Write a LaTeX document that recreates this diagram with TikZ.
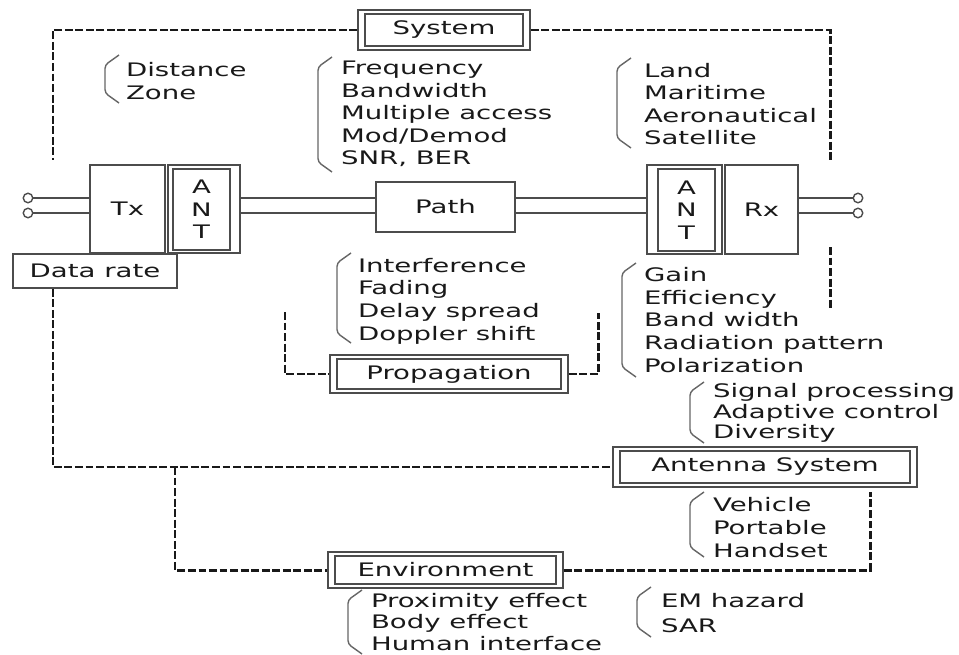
\documentclass[tikz,border=0pt]{standalone}
\usepackage{fontspec}
\setmainfont{DejaVu Sans}
\usepackage{graphicx}
\newcommand{\lfont}{\fontsize{10.6}{12.86}\selectfont}
\newcommand{\wt}[1]{\scalebox{1.48}[1]{#1}}

\begin{document}
\begin{tikzpicture}[x=0.02cm, y=-0.02cm, line width=0.8pt,
  box/.style={draw=black!70, inner sep=0pt, font=\lfont, text=black!90},
  dbox/.style={box, path picture={\draw[black!70] ([shift={(7,4)}]path picture bounding box.north west) rectangle ([shift={(-7,-4)}]path picture bounding box.south east);}},
  lst/.style={font=\lfont, text=black!90, align=left, anchor=west, inner sep=0pt, xscale=1.48},
  term/.style={circle, draw=black!70, minimum size=0.19cm, inner sep=0pt},
  dline/.style={draw=black!90, line width=1.7pt, dash pattern=on 4.5pt off 1.5pt},
  brk/.style={draw=black!60, line width=0.8pt, rounded corners=2pt}]
\useasboundingbox (0,0) rectangle (959,655);
% system level
\node[dbox, minimum width=3.44cm, minimum height=0.8cm] (sys) at (444,30) {\wt{System}};
\coordinate (cTL) at (53,160); \coordinate (cTR) at (830,160);
\draw[dline] (sys.west) -| (cTL);
\draw[dline] (sys.east) -| (cTR);
\node[lst] (dz) at (125,81) {Distance\\Zone};
\node[lst] (fq) at (340,114) {Frequency\\Bandwidth\\Multiple access\\Mod/Demod\\SNR, BER};
\node[lst] (ld) at (643,104) {Land\\Maritime\\Aeronautical\\Satellite};
% link chain
\node[box, minimum width=1.5cm, minimum height=1.76cm] (tx) at (127.5,209) {\wt{Tx}};
\node[box, minimum width=1.44cm, minimum height=1.76cm] (antLo) at (204,209) {};
\node[box, align=center, minimum width=1.14cm, minimum height=1.62cm] (antLi) at (201.5,209.5) {\wt{A}\\\wt{N}\\\wt{T}};
\node[box, minimum width=3.28cm, minimum height=0.68cm] (data) at (95,271) {\wt{Data rate}};
\node[box, minimum width=2.78cm, minimum height=1.0cm] (path) at (445.5,207) {\wt{Path}};
\node[box, minimum width=1.5cm, minimum height=1.78cm] (antRo) at (684.5,209.5) {};
\node[box, align=center, minimum width=1.14cm, minimum height=1.64cm] (antRi) at (686.5,210) {\wt{A}\\\wt{N}\\\wt{T}};
\node[box, minimum width=1.46cm, minimum height=1.78cm] (rx) at (761.5,209.5) {\wt{Rx}};
\node[term] (inA) at (28,198) {}; \node[term] (inB) at (28,213) {};
\node[term] (outA) at (858,198) {}; \node[term] (outB) at (858,213) {};
\draw[black!70] (inA) -- (tx.west |- inA); \draw[black!70] (inB) -- (tx.west |- inB);
\draw[black!70] (antLo.east |- inA) -- (path.west |- inA); \draw[black!70] (antLo.east |- inB) -- (path.west |- inB);
\draw[black!70] (path.east |- inA) -- (antRo.west |- inA); \draw[black!70] (path.east |- inB) -- (antRo.west |- inB);
\draw[black!70] (rx.east |- outA) -- (outA); \draw[black!70] (rx.east |- outB) -- (outB);
\coordinate (rD1) at (830,247); \coordinate (rD2) at (830,310);
\draw[dline] (rD1) -- (rD2);
% propagation
\node[lst] (intf) at (357,301) {Interference\\Fading\\Delay spread\\Doppler shift};
\node[dbox, minimum width=4.76cm, minimum height=0.76cm] (prop) at (449,374) {\wt{Propagation}\hspace{0.22cm}};
\coordinate (cP1) at (285,312); \coordinate (cP2) at (598,313);
\draw[dline] (cP1) |- (prop.west);
\draw[dline] (prop.east) -| (cP2);
\node[lst] (gain) at (643,320) {Gain\\Efficiency\\Band width\\Radiation pattern\\Polarization};
% antenna system
\node[lst, font=\fontsize{10.6}{11.6}\selectfont] (sig) at (712,413) {Signal processing\\Adaptive control\\Diversity};
\node[dbox, minimum width=6.08cm, minimum height=0.8cm] (ant) at (765,467) {\wt{Antenna System}};
\draw[dline] (data.south -| cTL) |- (ant.west);
\node[lst] (veh) at (712,527.5) {Vehicle\\Portable\\Handset};
% environment
\node[dbox, minimum width=4.7cm, minimum height=0.72cm] (env) at (445.5,570) {\wt{Environment}\hspace{0.52cm}};
\coordinate (cE) at (175,467); \coordinate (cV) at (870,492);
\draw[dline] (cE) |- (env.west);
\draw[dline] (env.east) -| (cV);
\node[lst, font=\fontsize{10.6}{12.4}\selectfont] (prox) at (370,622) {Proximity effect\\Body effect\\Human interface};
\node[lst, font=\fontsize{10.6}{13.9}\selectfont] (emh) at (660,613) {EM hazard\\SAR};
% brackets
\foreach \bx/\bt/\bb in {105/55/103, 318/57/172, 617/58/148, 337/253/343, 622/263/377, 690/382/443, 690/492/557, 348/590/654, 637/587/637}
  \draw[brk] (\bx+14,\bt) -- (\bx,\bt+10) -- (\bx,\bb-10) -- (\bx+14,\bb);
\end{tikzpicture}
\end{document}
